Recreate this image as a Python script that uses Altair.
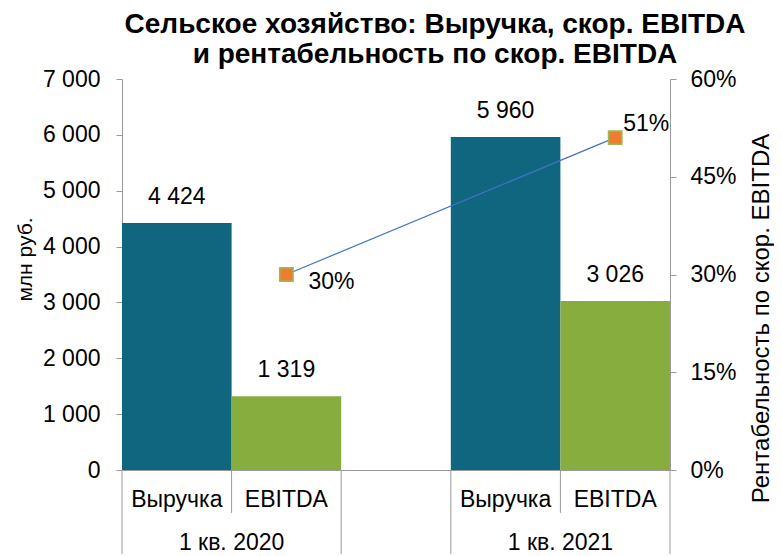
import altair as alt
import pandas as pd

# ---- data ----
periods = ["1 кв. 2020", "1 кв. 2021"]
series = ["Выручка", "EBITDA"]
revenue = [4424, 5960]
ebitda = [1319, 3026]
margin = [0.30, 0.51]

slots = ["2020|Выручка", "2020|EBITDA", "gap", "2021|Выручка", "2021|EBITDA"]
rev_slots = ["2020|Выручка", "2021|Выручка"]
ebt_slots = ["2020|EBITDA", "2021|EBITDA"]

fmt = lambda v: f"{v:,}".replace(",", " ")

bars = pd.DataFrame(
    {
        "slot": rev_slots + ebt_slots,
        "series": ["Выручка"] * 2 + ["EBITDA"] * 2,
        "value": revenue + ebitda,
        "label": [fmt(v) for v in revenue + ebitda],
    }
)
line_df = pd.DataFrame(
    {"slot": ebt_slots, "margin": margin, "label": [f"{round(m*100)}%" for m in margin], "i": [0, 1]}
)
cat_df = pd.DataFrame({"slot": rev_slots + ebt_slots, "name": ["Выручка"] * 2 + ["EBITDA"] * 2})
per_df = pd.DataFrame({"slot": ebt_slots, "period": periods})
full_rules = pd.DataFrame({"slot": ["2020|Выручка", "gap", "2021|Выручка"]})
short_rules = pd.DataFrame({"slot": ebt_slots})
end_rule = pd.DataFrame({"slot": ["2021|EBITDA"]})

W, H = 548, 391
GRAY = "#9A9A9A"
FONT = "Liberation Sans"
TEAL = "#10657F"
GREEN = "#87AD3F"

xscale = alt.Scale(domain=slots, paddingInner=0, paddingOuter=0)
x_axis = alt.Axis(labels=False, ticks=False, title=None, domainColor=GRAY, domainWidth=1, grid=False)


def X(bp=None):
    if bp is None:
        return alt.X("slot:N", scale=xscale, axis=x_axis)
    return alt.X("slot:N", scale=xscale, axis=x_axis, bandPosition=bp)


left_scale = alt.Scale(domain=[0, 7000], nice=False)
left_axis = alt.Axis(
    values=list(range(0, 7001, 1000)),
    labelExpr="replace(format(datum.value, ','), ',', ' ')",
    title="млн руб.",
    titleFont=FONT,
    titleFontSize=21,
    titleFontWeight="normal",
    titleColor="black",
    titleAngle=270,
    titleAlign="center",
    titleBaseline="middle",
    titleX=-97,
    titleY=180,
    labelFont=FONT,
    labelFontSize=23,
    labelColor="black",
    labelPadding=16,
    tickSize=6,
    tickColor=GRAY,
    domainColor=GRAY,
    grid=False,
)
y_left = alt.Y("value:Q", scale=left_scale, axis=left_axis)

bar_layer = alt.Chart(bars).mark_bar().encode(
    x=X(),
    y=y_left,
    color=alt.Color(
        "series:N",
        scale=alt.Scale(domain=series, range=[TEAL, GREEN]),
        legend=None,
    ),
)
bar_text = alt.Chart(bars).mark_text(
    font=FONT, fontSize=23, color="black", baseline="middle", dy=-26
).encode(x=X(), y=y_left, text="label:N")

left = alt.layer(bar_layer, bar_text)

right_scale = alt.Scale(domain=[0, 0.6], nice=False)
right_axis = alt.Axis(
    orient="right",
    values=[0, 0.15, 0.3, 0.45, 0.6],
    format=".0%",
    title="Рентабельность по скор. EBITDA",
    titleFont=FONT,
    titleFontSize=24,
    titleFontWeight="normal",
    titleColor="black",
    titleAngle=270,
    titleAlign="center",
    titleBaseline="middle",
    titleX=91,
    titleY=239,
    labelFont=FONT,
    labelFontSize=23,
    labelColor="black",
    labelPadding=14,
    tickSize=6,
    tickColor=GRAY,
    domainColor=GRAY,
    grid=False,
)
y_right = alt.Y("margin:Q", scale=right_scale, axis=right_axis)

line_layer = alt.Chart(line_df).mark_line(color="#4472C4", strokeWidth=1.2).encode(x=X(), y=y_right)
pt_layer = alt.Chart(line_df).mark_point(
    shape="square", filled=True, size=180, fill="#ED7D31", stroke="#9BBB59", strokeWidth=1.5, opacity=1
).encode(x=X(), y=y_right)
lab0 = alt.Chart(line_df).transform_filter("datum.i == 0").mark_text(
    font=FONT, fontSize=23, color="black", align="left", baseline="middle", dx=22, dy=7
).encode(x=X(), y=y_right, text="label:N")
lab1 = alt.Chart(line_df).transform_filter("datum.i == 1").mark_text(
    font=FONT, fontSize=23, color="black", align="left", baseline="middle", dx=8, dy=-14
).encode(x=X(), y=y_right, text="label:N")

right = alt.layer(line_layer, pt_layer, lab0, lab1)

# category axis (two levels)
cat_text = alt.Chart(cat_df).mark_text(
    font=FONT, fontSize=23, color="black", baseline="middle"
).encode(x=X(), y=alt.value(H + 30), text="name:N")
per_text = alt.Chart(per_df).mark_text(
    font=FONT, fontSize=23, color="black", baseline="middle"
).encode(x=X(0), y=alt.value(H + 73), text="period:N")
rule_full = alt.Chart(full_rules).mark_rule(color=GRAY, strokeWidth=1).encode(
    x=X(0), y=alt.value(H), y2=alt.value(H + 90)
)
rule_end = alt.Chart(end_rule).mark_rule(color=GRAY, strokeWidth=1).encode(
    x=X(1), y=alt.value(H), y2=alt.value(H + 90)
)
rule_short = alt.Chart(short_rules).mark_rule(color=GRAY, strokeWidth=1).encode(
    x=X(0), y=alt.value(H), y2=alt.value(H + 43)
)

chart = (
    alt.layer(left, right, cat_text, per_text, rule_full, rule_end, rule_short)
    .resolve_scale(y="independent")
    .properties(
        width=W,
        height=H,
        autosize=alt.AutoSizeParams(type="none"),
        padding={"left": 114, "top": 71, "right": 104, "bottom": 84},
        title=alt.TitleParams(
            text=["Сельское хозяйство: Выручка, скор. EBITDA", "и рентабельность по скор. EBITDA"],
            font=FONT,
            fontSize=28,
            fontWeight="bold",
            color="black",
            anchor="middle",
            dx=39,
            dy=2,
            lineHeight=30,
            offset=1,
        ),
    )
    .configure_view(stroke=None)
)

chart.save("out.html", embed_options={"renderer": "svg", "actions": False})
